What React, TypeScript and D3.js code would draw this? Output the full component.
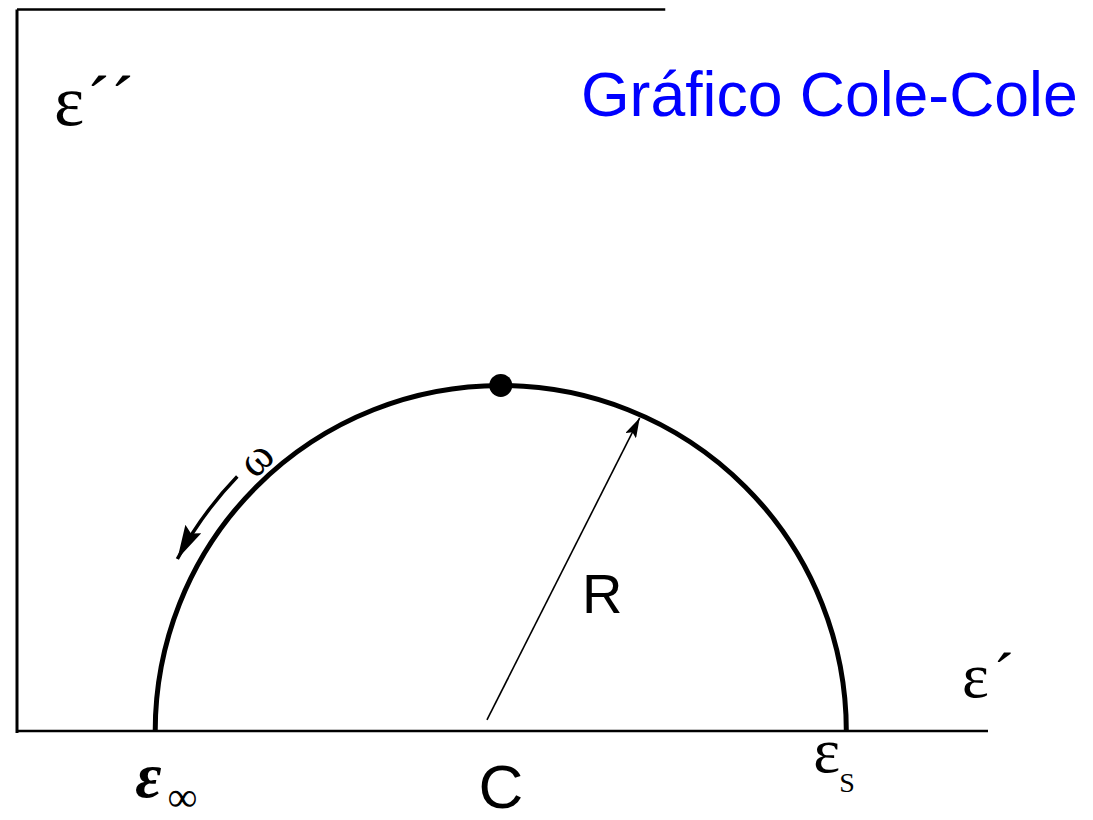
import React from "react";
import * as d3 from "d3";

// Cole-Cole plot: ε'' versus ε' for a single Debye relaxation
const WIDTH = 1093;
const HEIGHT = 820;

// real-part axis extent and the two limiting permittivities
const X_DOMAIN: [number, number] = [0, 14.05];
const EPS_INF = 2;
const EPS_S = 12;
// top frame line stops here (ε' units); top of ε'' axis
const TOP_LINE_END = 9.38;
const Y_MAX = 10.44;

// peak of the semicircle (ωτ = 1)
const PEAK: [number, number] = [(EPS_INF + EPS_S) / 2, (EPS_S - EPS_INF) / 2];
// radius arrow: from near the centre to the arc
const R_FROM: [number, number] = [6.8, 0.16];
const R_TO: [number, number] = [9.01, 4.53];
// ω direction arrow drawn along a concentric arc (radius, start/end angle in degrees)
const OMEGA_ARC = { radius: 5.3, start: 136, end: 152 };

const SERIF = "'Liberation Serif', 'Times New Roman', serif";
const SANS = "'Liberation Sans', Arial, sans-serif";

export default function App() {
  const x = d3.scaleLinear().domain(X_DOMAIN).range([17, 988]);
  const y = d3.scaleLinear().domain([0, Y_MAX]).range([731, 9.5]);
  const unit = x(1) - x(0);

  const cx = x(PEAK[0]);
  const cy = y(0);
  const r = x(EPS_S) - cx;

  // semicircle from ε∞ over the top to εs
  const semi = d3.path();
  semi.moveTo(x(EPS_INF), cy);
  semi.arc(cx, cy, r, Math.PI, 0);

  // ω arrow, counter-clockwise in data space → toward low ε'
  const oa = d3.path();
  const a0 = (-OMEGA_ARC.start * Math.PI) / 180;
  const a1 = (-OMEGA_ARC.end * Math.PI) / 180;
  const orad = OMEGA_ARC.radius * unit;
  oa.moveTo(cx + orad * Math.cos(a0), cy + orad * Math.sin(a0));
  oa.arc(cx, cy, orad, a0, a1, true);

  const omegaPos = [255, 458];

  return (
    <svg
      width={WIDTH}
      height={HEIGHT}
      style={{ position: "absolute", left: 0, top: 0, background: "#fff" }}
    >
      <defs>
        <marker
          id="headThin"
          markerUnits="userSpaceOnUse"
          viewBox="0 0 20 12"
          refX={20}
          refY={6}
          markerWidth={20}
          markerHeight={12}
          orient="auto"
        >
          <path d="M0,0 L20,6 L0,12 L4,6 Z" fill="#000" />
        </marker>
        <marker
          id="headThick"
          markerUnits="userSpaceOnUse"
          viewBox="0 0 34 18"
          refX={34}
          refY={9}
          markerWidth={34}
          markerHeight={18}
          orient="auto"
        >
          <path d="M0,0 L34,9 L0,18 L5,9 Z" fill="#000" />
        </marker>
      </defs>

      {/* frame / axes */}
      <line x1={x(0)} y1={y(Y_MAX)} x2={x(0)} y2={y(0) + 2} stroke="#000" strokeWidth={3} />
      <line x1={x(0)} y1={y(Y_MAX)} x2={x(TOP_LINE_END)} y2={y(Y_MAX)} stroke="#000" strokeWidth={2.5} />
      <line x1={x(0)} y1={y(0)} x2={x(X_DOMAIN[1])} y2={y(0)} stroke="#000" strokeWidth={2.5} />

      {/* Debye semicircle */}
      <path d={semi.toString()} fill="none" stroke="#000" strokeWidth={5} />
      <circle cx={x(PEAK[0])} cy={y(PEAK[1])} r={11.5} fill="#000" />

      {/* radius R */}
      <line
        x1={x(R_FROM[0])}
        y1={y(R_FROM[1])}
        x2={x(R_TO[0])}
        y2={y(R_TO[1])}
        stroke="#000"
        strokeWidth={1.6}
        markerEnd="url(#headThin)"
      />

      {/* increasing frequency */}
      <path d={oa.toString()} fill="none" stroke="#000" strokeWidth={3.5} markerEnd="url(#headThick)" />
      <text
        x={omegaPos[0]}
        y={omegaPos[1]}
        fontFamily={SERIF}
        fontSize={46}
        textAnchor="middle"
        dominantBaseline="central"
        transform={`rotate(-45 ${omegaPos[0]} ${omegaPos[1]})`}
      >
        ω
      </text>

      {/* axis labels */}
      <text x={54} y={125} fontFamily={SERIF} fontSize={72}>
        ε<tspan dx={2}>´´</tspan>
      </text>
      <text x={962} y={697} fontFamily={SERIF} fontSize={64}>
        ε<tspan dx={4}>´</tspan>
      </text>

      {/* limits and centre */}
      <text x={x(EPS_INF) - 20} y={797} fontFamily={SERIF} fontStyle="italic" fontWeight="bold" fontSize={64}>
        ε
        <tspan fontStyle="normal" fontWeight="normal" fontSize={42} dx={6} dy={14}>
          ∞
        </tspan>
      </text>
      <text x={x(EPS_S) - 33} y={772} fontFamily={SERIF} fontSize={64}>
        ε
        <tspan fontSize={28} dx={-1} dy={20}>
          S
        </tspan>
      </text>
      <text x={cx} y={808} fontFamily={SANS} fontSize={62} textAnchor="middle">
        C
      </text>
      <text x={582} y={613} fontFamily={SANS} fontSize={56}>
        R
      </text>

      {/* title */}
      <text x={581} y={116} fontFamily={SANS} fontSize={62.5} fill="#0000ff">
        Gráfico Cole-Cole
      </text>
    </svg>
  );
}
